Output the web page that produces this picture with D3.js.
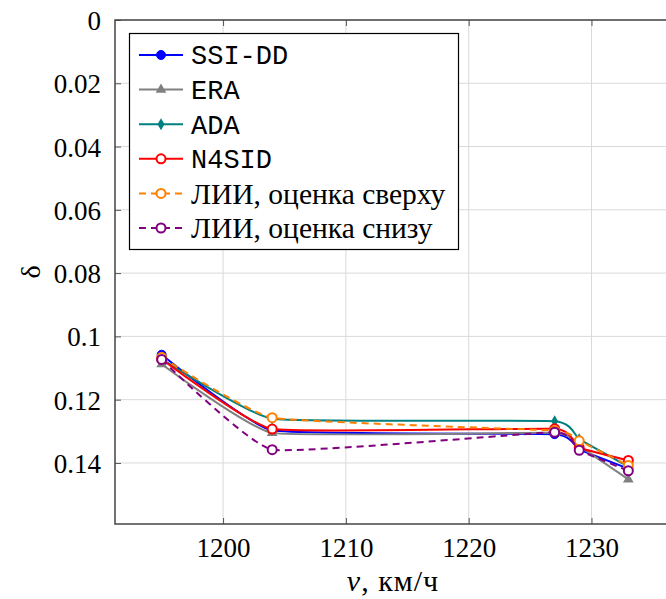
<!doctype html>
<html lang="en">
<head>
  <meta charset="utf-8">
  <title>delta vs v</title>
  <style>
    body { margin: 0; background: #fff; }
    text { fill: #000; }
  </style>
</head>
<body>
<svg width="666" height="599" id="chart"></svg>

<script src="https://d3js.org/d3.v7.min.js"></script>
<script>
    // data
    var speeds = [1195, 1204, 1227, 1229, 1233];
    var ssiDD  = [0.1058, 0.1297, 0.1309, 0.1357, 0.1418];
    var era    = [0.1088, 0.1305, 0.1305, 0.1347, 0.1452];
    var ada    = [0.1072, 0.1260, 0.1268, 0.1325, 0.1412];
    var n4sid  = [0.1072, 0.1293, 0.1292, 0.1352, 0.1392];
    var liiUp  = [0.1066, 0.1257, 0.1298, 0.1330, 0.1408];
    var liiLow = [0.1073, 0.1358, 0.1303, 0.1360, 0.1425];

    var xTicks = [1200, 1210, 1220, 1230];
    var yTicks = [0, 0.02, 0.04, 0.06, 0.08, 0.1, 0.12, 0.14];

    var series = [
        {name: "SSI-DD", values: ssiDD, color: "#0000ff", marker: "dot", mono: true},
        {name: "ERA", values: era, color: "#808080", marker: "tri", mono: true},
        {name: "ADA", values: ada, color: "#008080", marker: "diamond", mono: true},
        {name: "N4SID", values: n4sid, color: "#ff0000", marker: "ring", mono: true},
        {name: "ЛИИ, оценка сверху", values: liiUp, color: "#ff8000", marker: "ring", dash: true},
        {name: "ЛИИ, оценка снизу", values: liiLow, color: "#800080", marker: "ring", dash: true}
    ];

    var svg = d3.select("#chart");
    var pLeft = 115, pTop = 20, pBottom = 524, pRight = 675;

    var x = d3.scaleLinear().domain([1191.2, 1236.8]).range([pLeft, pRight]);
    var y = d3.scaleLinear().domain([0, 0.1593]).range([pTop, pBottom]);

    var serif = "'Liberation Serif', 'DejaVu Serif', serif";

    //grid
    svg.append("g").selectAll("line").data(xTicks).enter().append("line")
        .attr("x1", d => x(d)).attr("x2", d => x(d))
        .attr("y1", pTop).attr("y2", pBottom)
        .attr("stroke", "#d9d9d9").attr("stroke-width", 1);
    svg.append("g").selectAll("line").data(yTicks).enter().append("line")
        .attr("x1", pLeft).attr("x2", pRight)
        .attr("y1", d => y(d)).attr("y2", d => y(d))
        .attr("stroke", "#d9d9d9").attr("stroke-width", 1);

    //axes with inward ticks
    var xAxis = d3.axisBottom(x).tickValues(xTicks).tickSize(-6).tickPadding(14).tickFormat(d3.format("d"));
    var yAxis = d3.axisLeft(y).tickValues(yTicks).tickSize(-6).tickPadding(14).tickFormat(d => d === 0 ? "0" : d3.format("")(d));

    var gx = svg.append("g").attr("transform", "translate(0," + pBottom + ")").call(xAxis);
    var gy = svg.append("g").attr("transform", "translate(" + pLeft + ",0)").call(yAxis);
    var gxTop = svg.append("g").attr("transform", "translate(0," + pTop + ")")
        .call(d3.axisTop(x).tickValues(xTicks).tickSize(-6).tickFormat(""));

    [gx, gy, gxTop].forEach(function (g) {
        g.select(".domain").remove();
        g.selectAll(".tick line").attr("stroke", "#555").attr("stroke-width", 1);
        g.selectAll(".tick text").style("font-family", serif).style("font-size", "27px").attr("fill", "#000");
    });
    gy.selectAll(".tick text").attr("dy", "0.35em");

    //frame
    svg.append("rect").attr("x", pLeft).attr("y", pTop)
        .attr("width", pRight - pLeft).attr("height", pBottom - pTop)
        .attr("fill", "none").attr("stroke", "#444").attr("stroke-width", 1.5);

    //lines, only lightly smoothed
    var line = d3.line()
        .x(d => x(d[0])).y(d => y(d[1]))
        .curve(d3.curveCardinal.tension(0.65));

    function drawMarker(g, s, cx, cy) {
        if (s.marker === "dot") {
            g.append("circle").attr("cx", cx).attr("cy", cy).attr("r", 4.5)
                .attr("fill", s.color).attr("stroke", s.color);
        } else if (s.marker === "ring") {
            g.append("circle").attr("cx", cx).attr("cy", cy).attr("r", 4.5)
                .attr("fill", "#fff").attr("stroke", s.color).attr("stroke-width", 2);
        } else if (s.marker === "tri") {
            g.append("path").attr("d", d3.symbol().type(d3.symbolTriangle).size(50)())
                .attr("transform", "translate(" + cx + "," + cy + ")")
                .attr("fill", s.color);
        } else {
            g.append("path").attr("d", "M0,-6L3.5,0L0,6L-3.5,0Z")
                .attr("transform", "translate(" + cx + "," + cy + ")")
                .attr("fill", s.color);
        }
    }

    var plot = svg.append("g");
    series.forEach(function (s) {
        var pts = speeds.map((v, i) => [v, s.values[i]]);
        plot.append("path").datum(pts).attr("d", line)
            .attr("fill", "none").attr("stroke", s.color).attr("stroke-width", 2)
            .attr("stroke-dasharray", s.dash ? "7,5" : null);
        pts.forEach(function (p) { drawMarker(plot, s, x(p[0]), y(p[1])); });
    });

    //legend
    var leg = svg.append("g");
    leg.append("rect").attr("x", 129.5).attr("y", 33.5).attr("width", 329).attr("height", 216)
        .attr("fill", "#fff").attr("stroke", "#000").attr("stroke-width", 1.2);
    series.forEach(function (s, i) {
        var ly = 55 + i * 34.6;
        leg.append("line").attr("x1", 139).attr("x2", 183).attr("y1", ly).attr("y2", ly)
            .attr("stroke", s.color).attr("stroke-width", 2)
            .attr("stroke-dasharray", s.dash ? "7,5" : null);
        drawMarker(leg, s, 161, ly);
        leg.append("text").attr("x", 191).attr("y", ly).attr("dy", "0.35em")
            .style("font-family", s.mono ? "'Liberation Mono', 'DejaVu Sans Mono', monospace" : serif)
            .style("font-size", s.mono ? "27px" : "29.5px")
            .text(s.name);
    });

    //axis titles
    svg.append("text").attr("transform", "translate(30,272) rotate(-90)")
        .attr("text-anchor", "middle").attr("dy", "0.35em")
        .style("font-family", serif).style("font-size", "28px").text("δ");

    var xl = svg.append("text").attr("x", 393).attr("y", 591)
        .attr("text-anchor", "middle")
        .style("font-family", serif).style("font-size", "30px").style("letter-spacing", "1px");
    xl.append("tspan").style("font-style", "italic").text("v");
    xl.append("tspan").text(", км/ч");
</script>
</body>
</html>
